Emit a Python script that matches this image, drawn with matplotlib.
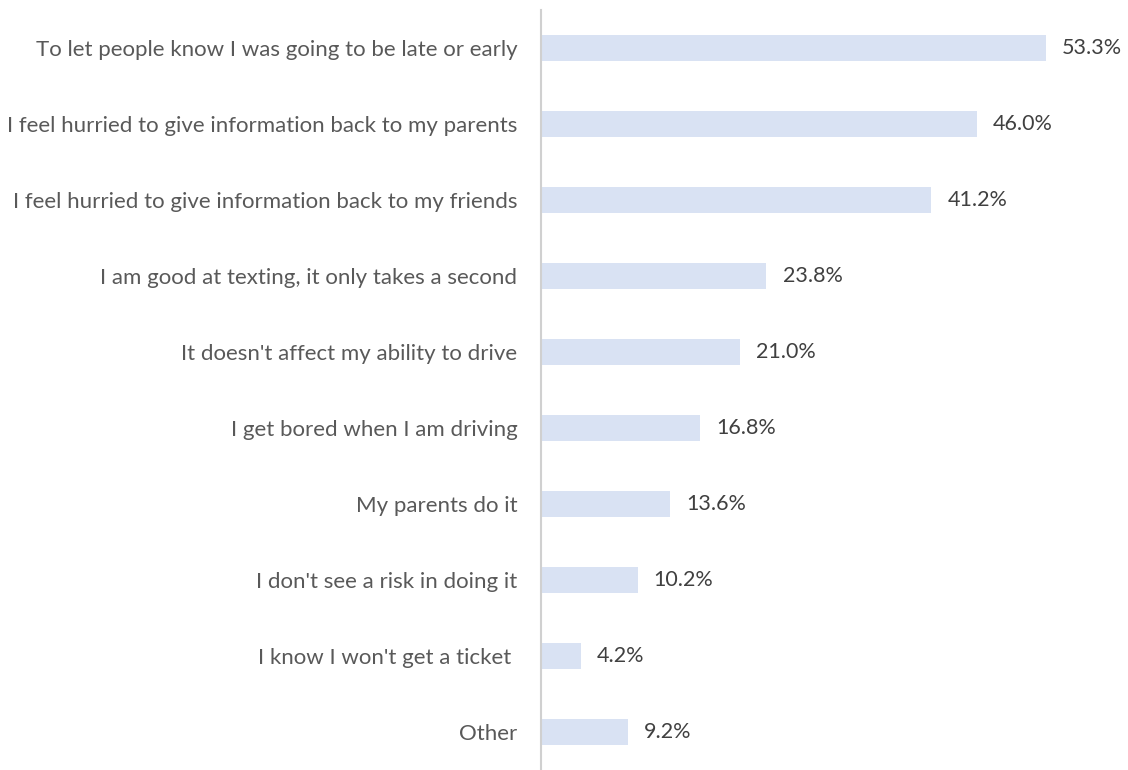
import matplotlib
matplotlib.use('Agg')
import matplotlib.pyplot as plt

# Reasons given for texting while driving
reasons = [
    "To let people know I was going to be late or early",
    "I feel hurried to give information back to my parents",
    "I feel hurried to give information back to my friends",
    "I am good at texting, it only takes a second",
    "It doesn't affect my ability to drive",
    "I get bored when I am driving",
    "My parents do it",
    "I don't see a risk in doing it",
    "I know I won't get a ticket ",
    "Other",
]
percent = [53.3, 46.0, 41.2, 23.8, 21.0, 16.8, 13.6, 10.2, 4.2, 9.2]

plt.rcParams['font.family'] = ['Lato', 'DejaVu Sans']

fig = plt.figure(figsize=(11.28, 7.7), dpi=100)
ax = fig.add_axes([0.4796, 0.0, 0.504, 0.987])

y = range(len(reasons))
ax.barh(y, percent, height=0.34, color='#D9E2F3')
for yi, v in zip(y, percent):
    ax.text(v + 1.7, yi, f"{v:.1f}%", va='center', ha='left',
            fontsize=15.5, color='#404040')

ax.set_xlim(0, 60)
ax.set_ylim(len(reasons) - 0.5, -0.5)
ax.set_yticks(list(y))
ax.set_yticklabels(reasons, fontsize=16, color='#595959')
ax.tick_params(axis='y', length=0, pad=17)
ax.set_xticks([])

for side in ['top', 'right', 'bottom']:
    ax.spines[side].set_visible(False)
ax.spines['left'].set_color('#D0D0D0')
ax.spines['left'].set_linewidth(1.5)

fig.savefig('out.png', dpi=100)
